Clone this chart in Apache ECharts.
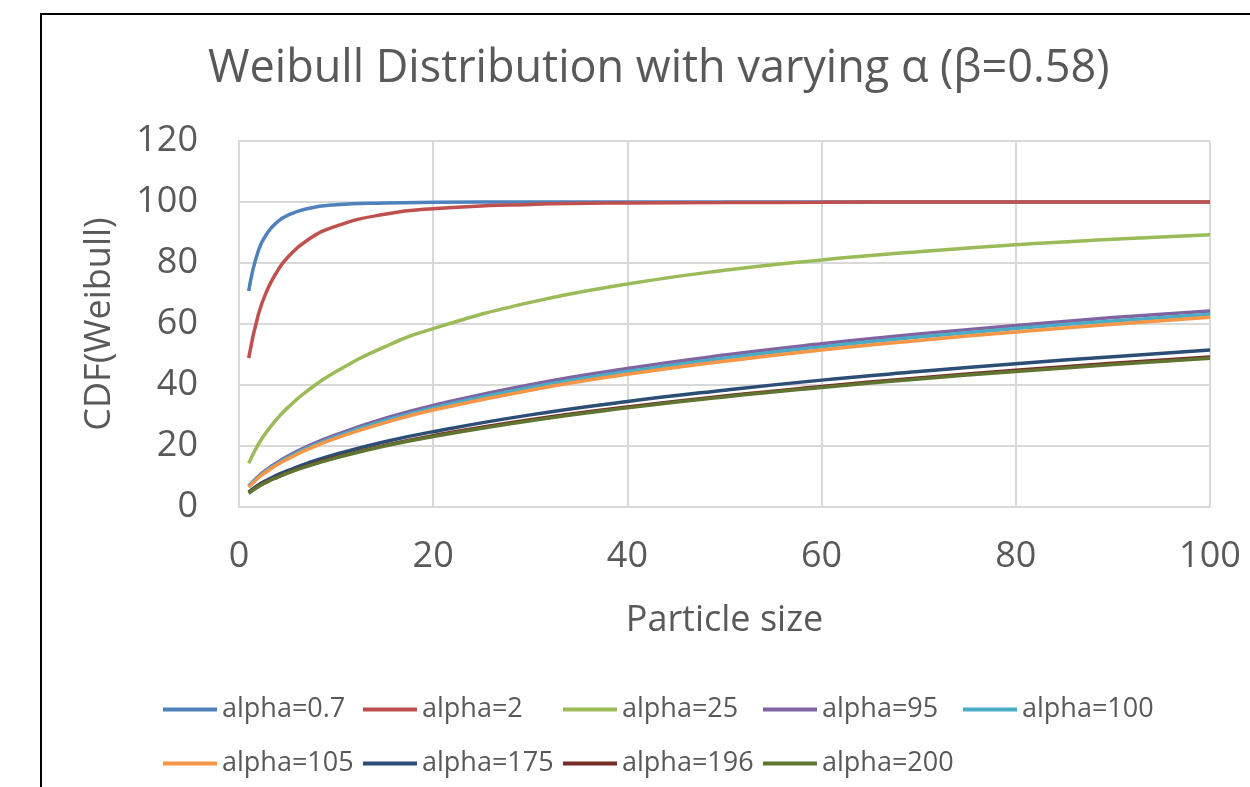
<!DOCTYPE html>
<html>
<head>
<meta charset="utf-8">
<script src="https://cdn.jsdelivr.net/npm/echarts@6/dist/echarts.min.js"></script>
<style>
  html, body { margin: 0; padding: 0; background: #fff; }
  #chart { width: 1250px; height: 787px; }
</style>
</head>
<body>
<div id="chart"></div>
<script>
// particle sizes sampled along the curves
const sizes = [1, 2, 3, 4, 5, 7, 10, 15, 20, 30, 40, 50, 60, 70, 80, 90, 100]

// CDF values (%)
const alpha07 = [70.8, 84.1, 90.2, 93.6, 95.6, 97.8, 99.1, 99.7, 99.9, 100, 100, 100, 100, 100, 100, 100, 100]
const alpha2 = [48.8, 63.2, 71.8, 77.6, 81.8, 87.4, 92.1, 96.0, 97.8, 99.2, 99.7, 99.8, 99.9, 100, 100, 100, 100]
const alpha25 = [14.3, 20.6, 25.3, 29.2, 32.5, 38.0, 44.4, 52.5, 58.5, 67.1, 73.1, 77.6, 81.0, 83.7, 86.0, 87.8, 89.3]
const alpha95 = [6.9, 10.1, 12.6, 14.7, 16.6, 19.8, 23.7, 29.0, 33.3, 40.1, 45.4, 49.8, 53.5, 56.7, 59.5, 62.1, 64.3]
const alpha100 = [6.7, 9.8, 12.3, 14.3, 16.1, 19.3, 23.1, 28.3, 32.5, 39.2, 44.4, 48.8, 52.5, 55.7, 58.5, 61.0, 63.2]
const alpha105 = [6.5, 9.6, 11.9, 14.0, 15.7, 18.8, 22.6, 27.6, 31.8, 38.3, 43.5, 47.8, 51.5, 54.6, 57.4, 59.9, 62.2]
const alpha175 = [4.9, 7.2, 9.0, 10.6, 11.9, 14.3, 17.3, 21.4, 24.7, 30.2, 34.6, 38.3, 41.6, 44.4, 47.0, 49.3, 51.5]
const alpha196 = [4.6, 6.8, 8.5, 9.9, 11.2, 13.5, 16.3, 20.2, 23.4, 28.6, 32.8, 36.4, 39.5, 42.3, 44.8, 47.1, 49.2]
const alpha200 = [4.5, 6.7, 8.4, 9.8, 11.1, 13.3, 16.1, 20.0, 23.1, 28.3, 32.5, 36.1, 39.2, 42.0, 44.4, 46.7, 48.8]

const seriesNames = ['alpha=0.7', 'alpha=2', 'alpha=25', 'alpha=95', 'alpha=100',
  'alpha=105', 'alpha=175', 'alpha=196', 'alpha=200']
const seriesValues = [alpha07, alpha2, alpha25, alpha95, alpha100, alpha105, alpha175, alpha196, alpha200]
const colors = ['#4F81BD', '#C0504D', '#9BBB59', '#8064A2', '#4BACC6',
  '#F79646', '#2C4D75', '#772C2A', '#5F7530']

const xTicks = [0, 20, 40, 60, 80, 100]
const yTicks = [0, 20, 40, 60, 80, 100, 120]

const FONT = '"Open Sans", "Noto Sans", sans-serif'
const TEXT = '#595959'
const GRID = '#d9d9d9'

const chart = echarts.init(document.getElementById('chart'))

// one legend per entry so the entries sit on a fixed 5-column grid
const legends = seriesNames.map((name, i) => ({
  data: [name],
  left: 163 + (i % 5) * 200,
  top: i < 5 ? 696 : 750,
  icon: 'rect',
  itemWidth: 54,
  itemHeight: 4,
  itemGap: 0,
  textStyle: { fontFamily: FONT, fontSize: 27, color: TEXT, padding: [0, 0, 0, 0] },
  padding: 0
}))

chart.setOption({
  animation: false,
  backgroundColor: '#fff',
  graphic: [{
    type: 'rect',
    shape: { x: 41, y: 14, width: 1400, height: 1000 },
    style: { fill: 'none', stroke: '#000', lineWidth: 2 },
    silent: true
  }],
  title: {
    text: 'Weibull Distribution with varying α (β=0.58)',
    left: 203,
    top: 42,
    textStyle: { fontFamily: FONT, fontSize: 45, fontWeight: 'normal', color: TEXT }
  },
  legend: legends,
  grid: { left: 239, right: 40, top: 141, bottom: 280, containLabel: false },
  xAxis: {
    type: 'value',
    min: xTicks[0],
    max: xTicks[xTicks.length - 1],
    interval: 20,
    name: 'Particle size',
    nameLocation: 'middle',
    nameGap: 96,
    nameTextStyle: { fontFamily: FONT, fontSize: 36, color: TEXT },
    axisLine: { show: true, lineStyle: { color: GRID, width: 2 } },
    axisTick: { show: false },
    axisLabel: { fontFamily: FONT, fontSize: 36, color: TEXT, margin: 32 },
    splitLine: { show: true, lineStyle: { color: GRID, width: 2 } }
  },
  yAxis: {
    type: 'value',
    min: yTicks[0],
    max: yTicks[yTicks.length - 1],
    interval: 20,
    name: 'CDF(Weibull)',
    nameLocation: 'middle',
    nameGap: 121,
    nameTextStyle: { fontFamily: FONT, fontSize: 36, color: TEXT },
    axisLine: { show: true, lineStyle: { color: GRID, width: 2 } },
    axisTick: { show: false },
    axisLabel: { fontFamily: FONT, fontSize: 36, color: TEXT, margin: 41 },
    splitLine: { show: true, lineStyle: { color: GRID, width: 2 } }
  },
  series: seriesNames.map((name, i) => ({
    name,
    type: 'line',
    symbol: 'none',
    smooth: 0.5,
    color: colors[i],
    lineStyle: { width: 3.5, color: colors[i] },
    data: sizes.map((x, j) => [x, seriesValues[i][j]])
  }))
})
</script>
</body>
</html>
